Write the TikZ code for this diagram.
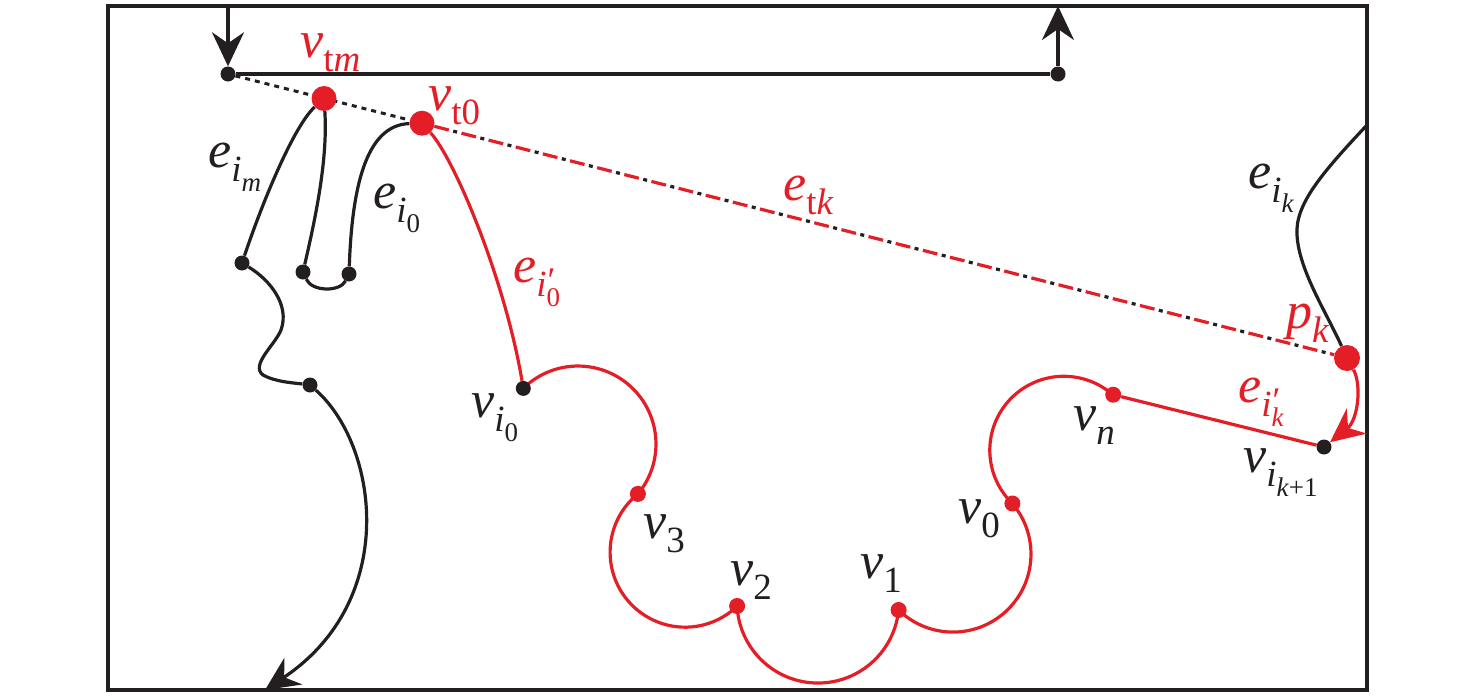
\documentclass[tikz,border=0pt]{standalone}
\usepackage{fontspec}
\setmainfont{Liberation Serif}
\usetikzlibrary{arrows.meta,backgrounds}
\definecolor{myred}{RGB}{228,30,38}
\definecolor{myblack}{RGB}{35,31,32}
\newcommand\mysubA[1]{\raisebox{-0.28em}{\fontsize{37}{37}\selectfont #1}}
\newcommand\mysubB[1]{\raisebox{-0.28em}{\fontsize{27}{27}\selectfont #1}}
\newcommand\myprime{\rlap{\raisebox{0.12em}{\fontsize{36}{36}\selectfont\kern1pt ′}}}
\begin{document}
\begin{tikzpicture}[x=1pt,y=-1pt,
  lab/.style={inner sep=0pt, anchor=base west, text=myblack, font=\fontsize{52}{52}\selectfont},
  bdot/.style={circle, fill=myblack, inner sep=0pt, minimum size=15pt},
  rdot/.style={circle, fill=myred, inner sep=0pt, minimum size=16pt},
  rbig/.style={circle, fill=myred, inner sep=0pt, minimum size=25pt},
  bline/.style={draw=myblack, line width=3.2pt},
  rline/.style={draw=myred, line width=3.2pt},
  arr/.style={-{Stealth[length=34pt,width=32pt,inset=11pt]}},
]
\useasboundingbox (0,0) rectangle (1476,699);
% dots
\node[bdot] (a) at (228,74) {};
\node[bdot] (b) at (1058,74) {};
\node[rbig] (vtm) at (324,98.5) {};
\node[rbig] (vt0) at (422,123.2) {};
\node[rbig, minimum size=26pt] (pk) at (1347,358) {};
\node[bdot] (c1) at (242,263) {};
\node[bdot] (c2) at (303,272) {};
\node[bdot] (c3) at (349,274) {};
\node[bdot] (c4) at (310,385) {};
\node[bdot] (vi0) at (523.3,388.4) {};
\node[rdot] (v3) at (637.9,493.9) {};
\node[rdot] (v2) at (737.1,606) {};
\node[rdot] (v1) at (898.6,610) {};
\node[rdot] (v0) at (1012.4,503.5) {};
\node[rdot] (vn) at (1113.2,394.7) {};
\node[bdot] (vik) at (1324,447) {};
\coordinate (top1) at (228,6);
\coordinate (top2) at (1058,6);
\coordinate (bot) at (265,690);
\coordinate (eik0) at (1367,125);
\begin{scope}[on background layer]
\draw[bline, line width=3.4pt] (108,6) rectangle (1367,690);
\draw[bline, arr] (top1) -- (a);
\draw[bline] (a) -- (b);
\draw[bline, arr] (b) -- (top2);
\draw[myblack, line width=3pt, dash pattern=on 5pt off 5pt] (a) -- (vt0);
\draw[myred, line width=3.2pt, dash pattern=on 15pt off 13pt] (vt0) -- (pk);
\draw[myblack, line width=3.2pt, dash pattern=on 4pt off 24pt, dash phase=8.5pt] (vt0) -- (pk);
% black curves
\draw[bline] (vtm) .. controls (295,125) and (265,195) .. (c1);
\draw[bline] (vtm) .. controls (328,160) and (315,220) .. (c2);
\draw[bline] (c2) .. controls (312,292) and (340,292) .. (c3);
\draw[bline] (c3) .. controls (352,190) and (365,125) .. (vt0);
\draw[bline] (c1) .. controls (270,280) and (290,305) .. (281,330) .. controls (275,345) and (250,365) .. (263,375) .. controls (275,382) and (295,383) .. (c4);
\draw[bline, arr] (c4) .. controls (378,445) and (400,600) .. (bot);
\draw[bline] (eik0) .. controls (1320,175) and (1295,205) .. (1297,235) .. controls (1299,270) and (1325,310) .. (pk);
% red curves
\draw[rline] (vt0) .. controls (455,160) and (505,280) .. (vi0);
\draw[rline] (vi0.center) arc[start angle=-134.5, end angle=39.8, radius=78];
\draw[rline] (v3.center) arc[start angle=231, end angle=46.1, radius=75];
\draw[rline] (v2.center) arc[start angle=177.2, end angle=5.7, radius=81];
\draw[rline] (v1.center) arc[start angle=134.2, end angle=-40.4, radius=78];
\draw[rline] (v0.center) arc[start angle=134, end angle=311.7, radius=74];
\draw[rline] (vn) -- (vik);
\draw[rline, arr] (pk) .. controls (1362,385) and (1358,420) .. (vik);
\end{scope}
% labels
\node[lab, text=myred] (Lvtm) at (300,57) {\textit{v}\mysubA{t\textit{m}}};
\node[lab, text=myred] (Lvt0) at (428,110) {\textit{v}\mysubA{t0}};
\node[lab] (Leim) at (208,167) {\textit{e}\mysubA{\textit{i}\mysubB{\textit{m}}}};
\node[lab] (Lei0) at (373,208) {\textit{e}\mysubA{\textit{i}\mysubB{0}}};
\node[lab, text=myred] (Lei0p) at (513,282) {\textit{e}\mysubA{\textit{i}\myprime\mysubB{0}}};
\node[lab] (Lvi0) at (471,417) {\textit{v}\mysubA{\textit{i}\mysubB{0}}};
\node[lab] (Lv3) at (643,538) {\textit{v}\mysubA{3}};
\node[lab] (Lv2) at (730,585) {\textit{v}\mysubA{2}};
\node[lab] (Lv1) at (860,578) {\textit{v}\mysubA{1}};
\node[lab] (Lv0) at (958,523) {\textit{v}\mysubA{0}};
\node[lab] (Lvn) at (1073,430) {\textit{v}\mysubA{\textit{n}}};
\node[lab] (Lvik) at (1243,472) {\textit{v}\mysubA{\textit{i}\mysubB{\textit{k}+1}}};
\node[lab, text=myred] (Leikp) at (1238,402) {\textit{e}\mysubA{\textit{i}\myprime\mysubB{\textit{k}}}};
\node[lab] (Leik) at (1248,188) {\textit{e}\mysubA{\textit{i}\mysubB{\textit{k}}}};
\node[lab, text=myred] (Lpk) at (1286,328) {\textit{p}\mysubA{\textit{k}}};
\node[lab, text=myred] (Letk) at (783,200) {\textit{e}\mysubA{t\textit{k}}};
\end{tikzpicture}
\end{document}
